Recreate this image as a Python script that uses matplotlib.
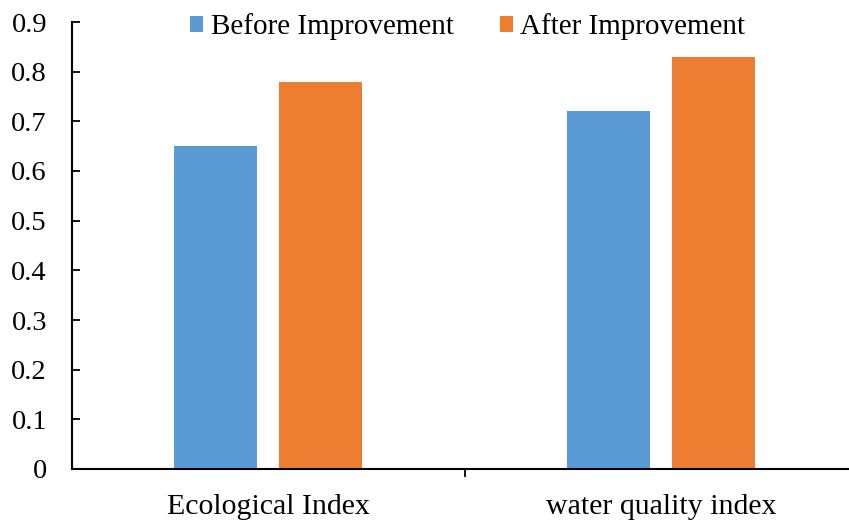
import numpy as np
import matplotlib
matplotlib.use("Agg")
import matplotlib.pyplot as plt

categorias = ["Ecological Index", "water quality index"]
antes = [0.65, 0.72]
despues = [0.78, 0.83]
series = ["Before Improvement", "After Improvement"]
colores = ["#5B9BD5", "#ED7D31"]

plt.rcParams["font.family"] = ["Liberation Serif", "DejaVu Serif"]

fig = plt.figure(figsize=(8.49, 5.2), dpi=100)
ax = fig.add_axes([72 / 849, 1 - 469 / 520, 785 / 849, (469 - 22) / 520])

x = np.arange(len(categorias))
ancho = 0.211
desp = 0.134
ax.bar(x - desp, antes, ancho, color=colores[0], label=series[0])
ax.bar(x + desp, despues, ancho, color=colores[1], label=series[1])

ax.set_xlim(-0.5, 1.5)
ax.set_ylim(0, 0.9)
ax.set_yticks(np.arange(0, 0.91, 0.1))
ax.set_yticklabels(["0"] + [f"{v:.1f}" for v in np.arange(0.1, 0.91, 0.1)])
ax.set_xticks(x)
ax.set_xticklabels(categorias)
ax.set_xticks([0.5], minor=True)

for s in ["top", "right"]:
    ax.spines[s].set_visible(False)
ax.spines["left"].set_linewidth(1.5)
ax.spines["bottom"].set_linewidth(1.5)

ax.tick_params(axis="y", direction="in", length=6, width=1.3, labelsize=20.5, pad=18)
ax.tick_params(axis="x", which="major", length=0, labelsize=21.5, pad=18)
ax.tick_params(axis="x", which="minor", direction="out", length=6, width=1.3)

fig.legend(loc="upper center", bbox_to_anchor=(0.551, 1.025), ncol=2, frameon=False,
           fontsize=21, handlelength=0.45, handleheight=0.45, handletextpad=0.25,
           columnspacing=1.6)

fig.savefig("out.png", dpi=100)
